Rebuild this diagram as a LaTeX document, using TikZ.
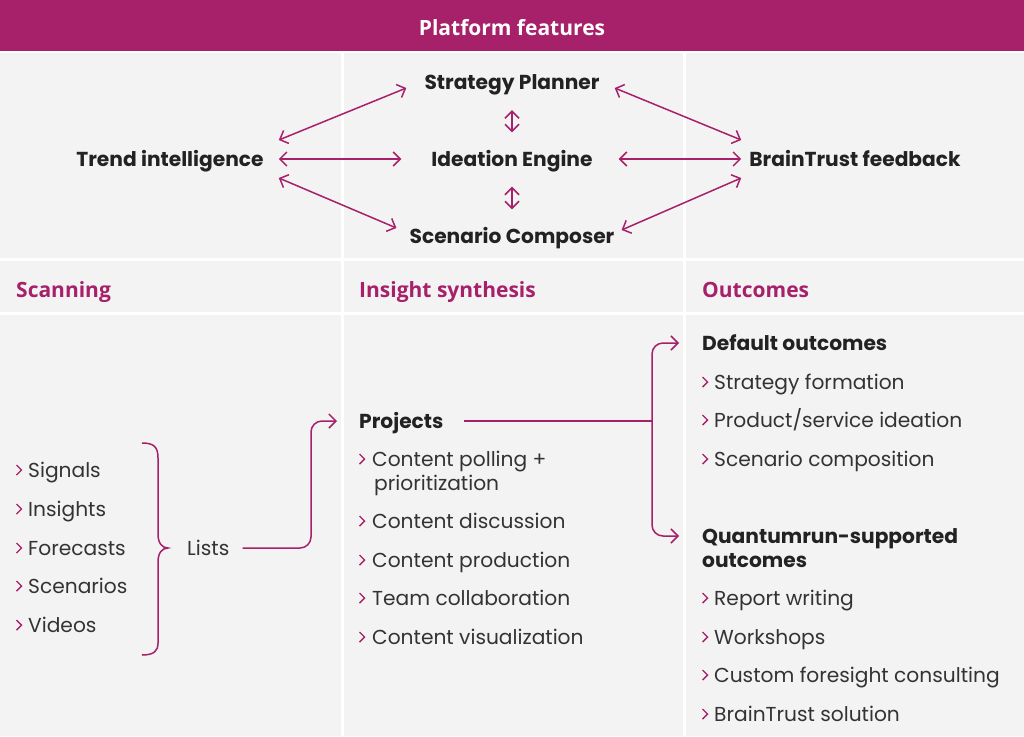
\documentclass[tikz,border=0pt]{standalone}
\usepackage{fontspec}
\setmainfont{Poppins}
\newfontfamily\hfont{Open Sans}
\usetikzlibrary{arrows.meta}
\definecolor{mag}{HTML}{A6206A}
\definecolor{cell}{HTML}{F3F3F3}
\definecolor{ink}{HTML}{222222}
\definecolor{bodyc}{HTML}{333333}
\begin{document}
\begin{tikzpicture}[x=1pt,y=-1pt,
  lbl/.style={inner sep=0pt, anchor=west, text height=14pt, text depth=0pt,
    font=\fontsize{20.2}{24}\selectfont, text=bodyc},
  blbl/.style={lbl, font=\fontsize{20.2}{24}\selectfont\bfseries, text=ink},
  cbl/.style={blbl, anchor=center},
  head/.style={inner sep=0pt, anchor=west, text height=14pt, text depth=0pt,
    font=\hfont\fontsize{21}{25}\selectfont\bfseries, text=mag},
  arr/.style={draw=mag, line width=1.5pt, {Straight Barb[length=7pt,width=14pt]}-{Straight Barb[length=7pt,width=14pt]}},
  conn/.style={draw=mag, line width=1.5pt, rounded corners=11pt},
  chevst/.style={draw=mag, line width=1.4pt}
]
\useasboundingbox (0,0) rectangle (1024,736);
\fill[white] (0,0) rectangle (1024,736);
% header band
\fill[mag] (0,0) rectangle (1024,50.5);
% cells
\foreach \ya/\yb in {52.5/258, 261/312, 315/736}{
  \fill[cell] (0,\ya) rectangle (341,\yb);
  \fill[cell] (344,\ya) rectangle (683,\yb);
  \fill[cell] (686,\ya) rectangle (1024,\yb);
}
\node[inner sep=0pt, text=white, font=\hfont\fontsize{21}{25}\selectfont\bfseries, text height=14pt, text depth=0pt] (title) at (512,28) {Platform features};

% top feature graph
\node[cbl] (sp) at (512,82) {Strategy Planner};
\node[cbl] (ie) at (512,159) {Ideation Engine};
\node[cbl] (sc) at (512,236) {Scenario Composer};
\node[cbl] (tr) at (170,159) {Trend intelligence};
\node[cbl] (bt) at (855,159) {BrainTrust feedback};

\draw[arr] ([shift={(15,-19)}]tr.east) -- ([shift={(-18,6)}]sp.west);
\draw[arr] ([shift={(15,0)}]tr.east) -- ([shift={(-30,0)}]ie.west);
\draw[arr] ([shift={(15,19)}]tr.east) -- ([shift={(-13,-8)}]sc.west);
\draw[arr] ([shift={(15,6)}]sp.east) -- ([shift={(-8,-19)}]bt.west);
\draw[arr] ([shift={(26,0)}]ie.east) -- ([shift={(-8,0)}]bt.west);
\draw[arr] ([shift={(7,-6)}]sc.east) -- ([shift={(-8,19)}]bt.west);
\draw[arr] ([yshift=-21]sp.south) -- ([yshift=19.5]ie.north);
\draw[arr] ([yshift=-20.5]ie.south) -- ([yshift=19.5]sc.north);

% column headings
\node[head] (h1) at (16,290) {Scanning};
\node[head] (h2) at (359,290) {Insight synthesis};
\node[head] (h3) at (702,290) {Outcomes};

% scanning list
\foreach \y/\t [count=\i] in {470/Signals, 509/Insights, 548/Forecasts, 586/Scenarios, 625/Videos}{
  \node[lbl] (s\i) at (28,\y) {\t};
  \draw[chevst] (16.5,\y-5) -- (21.5,\y) -- (16.5,\y+5);
}
% brace
\draw[draw=mag, line width=1.5pt] (142,443) .. controls (154,443) and (158,447) .. (158,458)
  -- (158,534) .. controls (158,543) and (162,548) .. (168,548)
  .. controls (162,548) and (158,553) .. (158,562)
  -- (158,643) .. controls (158,651) and (154,655) .. (142,655);
\node[lbl] (lists) at (187,548) {Lists};

% insight synthesis
\node[blbl] (proj) at (359,421) {Projects};
\foreach \y/\t [count=\i] in {459/{Content polling +}, 521/{Content discussion}, 560/{Content production}, 598/{Team collaboration}, 637/{Content visualization}}{
  \node[lbl] (p\i) at (372,\y) {\t};
  \draw[chevst] (359.5,\y-5) -- (364.5,\y) -- (359.5,\y+5);
}
\node[lbl] (p1b) at (374,483) {prioritization};

% outcomes
\node[blbl] (def) at (702,343) {Default outcomes};
\foreach \y/\t [count=\i] in {382/{Strategy formation}, 420/{Product/service ideation}, 459/{Scenario composition}}{
  \node[lbl] (d\i) at (714,\y) {\t};
  \draw[chevst] (702.5,\y-5) -- (707.5,\y) -- (702.5,\y+5);
}
\node[blbl] (qs) at (702,536) {Quantumrun-supported};
\node[blbl] (qs2) at (702,560) {outcomes};
\foreach \y/\t [count=\i] in {598/{Report writing}, 637/{Workshops}, 675/{Custom foresight consulting}, 714/{BrainTrust solution}}{
  \node[lbl] (q\i) at (714,\y) {\t};
  \draw[chevst] (702.5,\y-5) -- (707.5,\y) -- (702.5,\y+5);
}

% connectors
\coordinate (j1) at (311,548);
\coordinate (j2) at (652,421);
\draw[conn, -{Straight Barb[length=7pt,width=14pt]}, shorten <=13pt, shorten >=22pt]
  (lists.east) -- (j1) |- (proj.west);
\draw[draw=mag, line width=1.5pt, shorten <=20pt] (proj.east) -- (j2);
\draw[conn, -{Straight Barb[length=7pt,width=14pt]}, shorten >=23pt] (j2) |- (def.west);
\draw[conn, -{Straight Barb[length=7pt,width=14pt]}, shorten >=23pt] (j2) |- (qs.west);
\end{tikzpicture}
\end{document}
